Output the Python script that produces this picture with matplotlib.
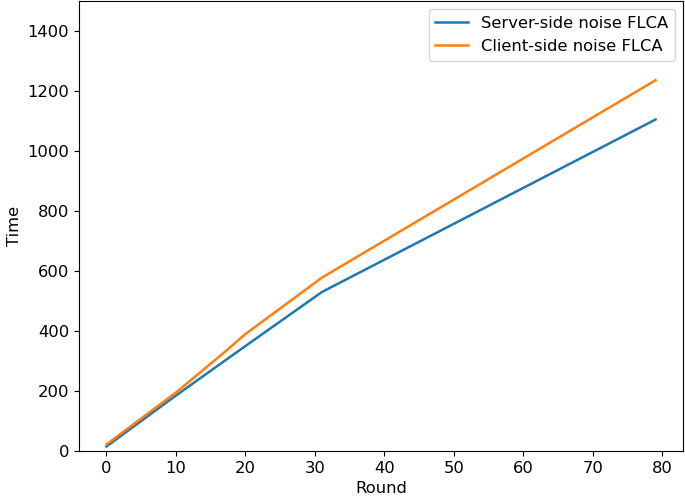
import matplotlib
matplotlib.use('Agg')
import matplotlib.pyplot as plt

plt.rcParams['font.size'] = 11.8
plt.rcParams['lines.linewidth'] = 1.8

# Values
server_rounds = [0, 10, 20, 31, 79]
server_time = [15, 185, 350, 530, 1105]

client_rounds = [0, 10, 17, 20, 31, 79]
client_time = [22, 195, 330, 390, 578, 1236]

fig = plt.figure(figsize=(6.85, 5.0), dpi=100)
ax = fig.add_axes([79 / 685, 49 / 500, 604 / 685, 450 / 500])

ax.plot(server_rounds, server_time, label='Server-side noise FLCA')
ax.plot(client_rounds, client_time, label='Client-side noise FLCA')

ax.set_ylim(0, 1500)
ax.set_xlabel('Round')
ax.set_ylabel('Time')
ax.legend(loc='upper right')

fig.savefig('out.png', dpi=100)
